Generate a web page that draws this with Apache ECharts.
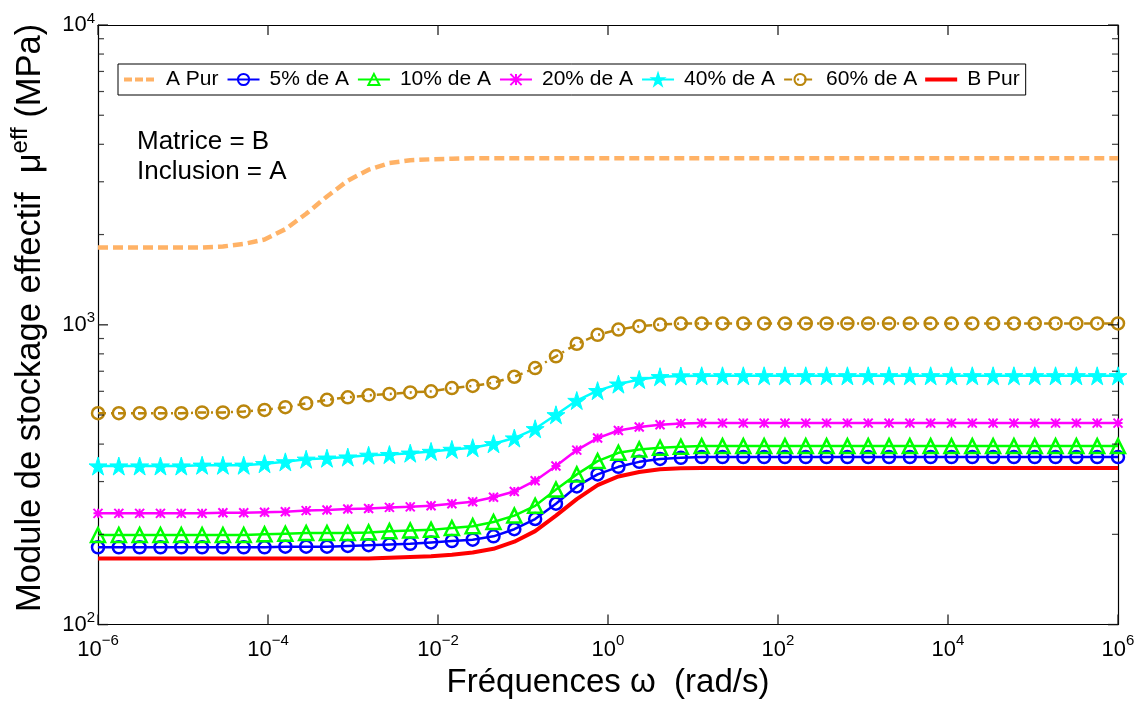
<!DOCTYPE html>
<html><head><meta charset="utf-8">
<script src="https://cdn.jsdelivr.net/npm/echarts@6/dist/echarts.min.js"></script>
<style>html,body{margin:0;padding:0;background:#fff}#c{width:1144px;height:704px}</style>
</head><body><div id="c"></div>
<script>
// ---- data ----
const seriesNames = ['A Pur', '5% de A', '10% de A', '20% de A', '40% de A', '60% de A', 'B Pur'];
// sampling grid: 50 log-spaced frequencies from 1e-6 to 1e6 (exponents)
const omegaExp = Array.from({length: 50}, (_, i) => -6 + 12 * i / 49);
const xTickExponents = [-6, -4, -2, 0, 2, 4, 6];
const yMajorTicks = [100, 1000, 10000];
const yMinorTicks = [200, 300, 400, 500, 600, 700, 800, 900, 2000, 3000, 4000, 5000, 6000, 7000, 8000, 9000];

const aPur = [1811,1811,1811,1811,1811,1811,1825,1860,1925,2084,2346,2680,3027,3292,3463,3538,3565,3579,
  3593,3593,3593,3593,3593,3593,3593,3593,3593,3593,3593,3593,3593,3593,3593,3593,
  3593,3593,3593,3593,3593,3593,3593,3593,3593,3593,3593,3593,3593,3593,3593,3593];
const p5 = [181,181,181,181,181,181,181,181,181,182,182,182,183,184,185,186,188,190,192,197,208,225,253,289,317,336,349,357,360,
  362,362,362,362,362,362,362,362,362,362,362,362,362,362,362,362,362,362,362,362,362];
const p10 = [199,199,199,199,199,199,199,199,200,201,202,202,202,203,205,206,207,210,213,220,231,249,282,317,351,374,384,389,392,
  394,394,394,394,394,394,394,394,394,394,394,394,394,394,394,394,394,394,394,394,394];
const p20 = [235,235,235,235,235,235,236,236,237,238,240,241,243,244,246,247,249,253,257,266,278,302,338,382,419,444,456,464,469,
  470,470,470,470,470,470,470,470,470,470,470,470,470,470,470,470,470,470,470,470,470];
const p40 = [338,338,338,338,338,340,340,340,344,349,356,359,362,367,369,373,378,384,389,401,419,450,501,559,603,634,657,671,675,
  676,676,676,676,676,676,676,676,676,676,676,676,676,676,676,676,676,676,676,676,676];
const p60 = [507,507,507,507,507,510,510,514,520,531,547,562,573,582,588,595,600,615,625,641,671,717,785,864,926,964,989,1002,1010,
  1011,1011,1011,1011,1011,1011,1011,1011,1011,1011,1011,1011,1011,1011,1011,1011,1011,1011,1011,1011,1011];
const bPur = [166,166,166,166,166,166,166,166,166,166,166,166,166,166,167,168,169,171,174,179,189,205,231,262,292,312,323,330,332,
  333,333,333,333,333,333,333,333,333,333,333,333,333,333,333,333,333,333,333,333,333];

// ---- styling ----
const NARROW = "'Liberation Sans Narrow', 'Liberation Sans', Arial, sans-serif";
const SANS = "'Liberation Sans', Arial, sans-serif";
const STAR = 'path://M50,0L61.2,34.5L97.6,34.5L68.2,55.9L79.4,90.5L50,69.1L20.6,90.5L31.8,55.9L2.4,34.5L38.8,34.5Z';
const AST = 'path://M0,0L10,10M10,0L0,10M5,0L5,10M0,5L10,5';
const ICON_DASH = 'path://M0,0M32,14M0,5h8v4h-8zM11,5h8v4h-8zM22,5h8v4h-8z';
const ICON_SOLID = 'path://M0,0M32,14M0,5h32v4h-32z';

function pairs(vals) { return vals.map((v, i) => [omegaExp[i], v]); }

function lineSeries(name, vals, color, width, type, symbol, size, fill, border) {
  return {
    name: name, type: 'line', data: pairs(vals), smooth: false,
    showSymbol: symbol !== 'none', showAllSymbol: true, symbol: symbol, symbolSize: size,
    lineStyle: {color: color, width: width, type: type},
    itemStyle: {color: fill, borderColor: color, borderWidth: border},
    emphasis: {disabled: true}, z: 3
  };
}

function tickSeries(name, data, size, offset) {
  return {
    name: name, type: 'scatter', silent: true, z: 4, clip: false,
    data: data, symbol: 'rect', symbolSize: size, symbolOffset: offset,
    itemStyle: {color: '#111'}, emphasis: {disabled: true}
  };
}

const expLabel = v => '{b|10}{s|' + (v < 0 ? '\u2212' + Math.abs(v) : String(v)) + '}';

const chart = echarts.init(document.getElementById('c'), null, {renderer: 'canvas'});
const axisLineStyle = {color: '#000', width: 1.2};
chart.setOption({
  animation: false,
  backgroundColor: '#fff',
  grid: {left: 98, right: 26, top: 25, bottom: 74, containLabel: false},
  legend: {
    data: seriesNames.map(n => n === 'A Pur' ? {name: n, icon: ICON_DASH}
                          : n === 'B Pur' ? {name: n, icon: ICON_SOLID} : {name: n}),
    left: 118, top: 64, orient: 'horizontal',
    padding: [5, 6, 5, 6], itemGap: 8, itemWidth: 32, itemHeight: 14,
    borderColor: '#000', borderWidth: 1, backgroundColor: '#fff',
    textStyle: {fontSize: 21, fontFamily: SANS, color: '#000', padding: [0, 0, 0, 5]}
  },
  xAxis: [{
    type: 'value', min: -6, max: 6, interval: 2, position: 'bottom',
    axisLine: {show: true, onZero: false, lineStyle: axisLineStyle},
    axisTick: {show: false},
    splitLine: {show: false},
    axisLabel: {
      margin: 9, formatter: v => expLabel(Math.round(v)),
      rich: {
        b: {fontSize: 22, fontFamily: NARROW, color: '#000'},
        s: {fontSize: 15, fontFamily: NARROW, color: '#000', padding: [0, 0, 18, 0]}
      }
    },
    name: 'Fréquences ω  (rad/s)', nameLocation: 'middle', nameGap: 34,
    nameTextStyle: {fontSize: 33, fontFamily: NARROW, color: '#000'}
  }, {
    type: 'value', min: -6, max: 6, interval: 2, position: 'top',
    axisLine: {show: true, onZero: false, lineStyle: axisLineStyle},
    axisTick: {show: false},
    axisLabel: {show: false}, splitLine: {show: false}
  }],
  yAxis: [{
    type: 'log', logBase: 10, min: 100, max: 10000, position: 'left',
    axisLine: {show: true, onZero: false, lineStyle: axisLineStyle},
    axisTick: {show: false},
    splitLine: {show: false}, minorTick: {show: false},
    axisLabel: {
      margin: 3, formatter: v => expLabel(Math.round(Math.log10(v))),
      rich: {
        b: {fontSize: 22, fontFamily: NARROW, color: '#000'},
        s: {fontSize: 15, fontFamily: NARROW, color: '#000', padding: [0, 0, 13, 0]}
      }
    },
    name: 'Module de stockage effectif  μ{sup|eff} (MPa)', nameLocation: 'middle', nameRotate: 90, nameGap: 45,
    nameTextStyle: {fontSize: 34.5, fontFamily: SANS, color: '#000', padding: [0, 0, 0, 14],
      rich: {sup: {fontSize: 24, fontFamily: SANS, color: '#000', padding: [0, 0, 21, 0]}}}
  }, {
    type: 'log', logBase: 10, min: 100, max: 10000, position: 'right',
    axisLine: {show: true, onZero: false, lineStyle: axisLineStyle},
    axisTick: {show: false},
    axisLabel: {show: false}, splitLine: {show: false}
  }],
  graphic: [{
    type: 'text', left: 137, top: 127, silent: true,
    style: {text: 'Matrice = B\nInclusion = A', fontSize: 26, fontFamily: SANS, fill: '#000', lineHeight: 30}
  }],
  series: [
    lineSeries('A Pur', aPur, '#FFB266', 4.5, [10, 5], 'none', 0, '#FFB266', 0),
    lineSeries('5% de A', p5, '#0000FF', 2.5, 'solid', 'circle', 12, 'rgba(0,0,0,0)', 2.5),
    lineSeries('10% de A', p10, '#00FF00', 2.5, 'solid', 'triangle', 14, 'rgba(0,0,0,0)', 2.5),
    lineSeries('20% de A', p20, '#FF00FF', 2.5, 'solid', AST, 9, 'rgba(0,0,0,0)', 2),
    lineSeries('40% de A', p40, '#00FFFF', 2.5, 'solid', STAR, 18, '#00FFFF', 1),
    lineSeries('60% de A', p60, '#BA860C', 2.5, [8, 5, 2, 5], 'circle', 12, 'rgba(0,0,0,0)', 2.5),
    lineSeries('B Pur', bPur, '#FF0000', 4, 'solid', 'none', 0, '#FF0000', 0),
    // axis ticks (inside), positioned through the axes' own scales
    tickSeries('xTicksBottom', xTickExponents.map(e => [e, 100]), [1.5, 10], [0, -5]),
    tickSeries('xTicksTop', xTickExponents.map(e => [e, 10000]), [1.5, 10], [0, 5]),
    tickSeries('yMajorL', yMajorTicks.map(v => [-6, v]), [10, 1.5], [5, 0]),
    tickSeries('yMajorR', yMajorTicks.map(v => [6, v]), [10, 1.5], [-5, 0]),
    tickSeries('yMinorL', yMinorTicks.map(v => [-6, v]), [6, 1.2], [3, 0]),
    tickSeries('yMinorR', yMinorTicks.map(v => [6, v]), [6, 1.2], [-3, 0])
  ]
});
</script></body></html>
